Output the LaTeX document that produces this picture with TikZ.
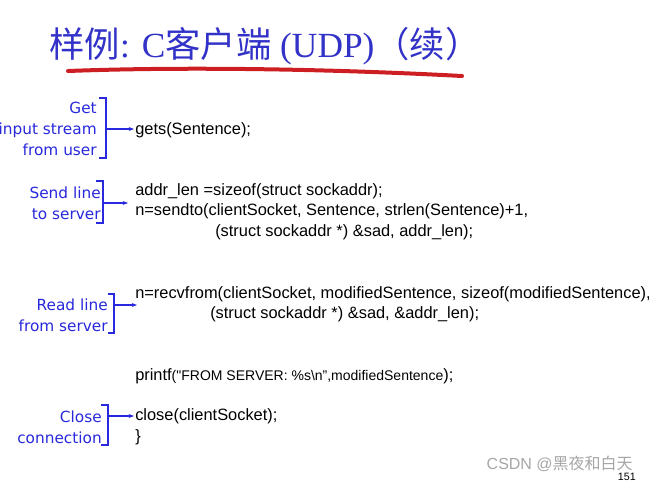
\documentclass[tikz,border=0pt]{standalone}
\usepackage{fontspec}
\usetikzlibrary{arrows.meta}
\setmainfont{Liberation Serif}
\newfontfamily\cjk{Noto Sans CJK SC}
\newfontfamily\codef{Liberation Sans}
\newfontfamily\labf{DejaVu Sans}
\definecolor{tblue}{RGB}{50,50,200}
\definecolor{lblue}{RGB}{40,40,220}
\definecolor{ured}{RGB}{205,30,35}
\begin{document}
\begin{tikzpicture}[x=0.75pt,y=-0.75pt,
  code/.style={anchor=west,inner sep=0pt,font=\codef\fontsize{12.3}{14}\selectfont},
  lab/.style={anchor=east,inner sep=0pt,align=right,text=lblue,font=\labf\fontsize{11.5}{15.5}\selectfont},
  brk/.style={draw=lblue,line width=1.3pt},
  arr/.style={draw=lblue,line width=1pt,-{Stealth[length=4pt]}}]
\useasboundingbox (0,0) rectangle (649,483);
\begin{scope}
\clip (0,0) rectangle (649,483);
\node[inner sep=0pt,text=tblue,font=\fontsize{26.5}{30}\selectfont] (title) at (265,46) {{\cjk 样例}: C{\cjk 客户端} (UDP){\cjk （续）}};
\draw[ured,line width=3pt,line cap=round] (68,71) .. controls (200,66) and (350,70) .. (462,76);
% labels
\node[lab] (l1) at (97,129) {Get\\input stream\\from user};
\node[lab] (l2) at (101,203) {Send line\\to server};
\node[lab] (l3) at (108,315) {Read line\\from server};
\node[lab] (l4) at (102,427) {Close\\connection};
\draw[brk] (99,98) -- (106,98) -- (106,158) -- (99,158);
\draw[brk] (96,181) -- (103,181) -- (103,223) -- (96,223);
\draw[brk] (108,294) -- (114,294) -- (114,333) -- (108,333);
\draw[brk] (101,405) -- (108,405) -- (108,445) -- (101,445);
% code
\node[code] (c1) at (135,130) {gets(Sentence);};
\node[code] (c2) at (135,191) {addr\_len =sizeof(struct sockaddr);};
\node[code] (c3) at (135,211) {n=sendto(clientSocket, Sentence, strlen(Sentence)+1,};
\node[code] (c4) at (215,232) {(struct sockaddr *) \&sad, addr\_len);};
\node[code] (c5) at (135,294) {n=recvfrom(clientSocket, modifiedSentence, sizeof(modifiedSentence),};
\node[code] (c6) at (210,314) {(struct sockaddr *) \&sad, \&addr\_len);};
\node[code] (c7) at (135,376) {printf{\fontsize{10.5}{12}\selectfont("FROM SERVER: \%s\textbackslash n”,modifiedSentence}{);}};
\node[code] (c8) at (135,416) {close(clientSocket);};
\node[code] (c9) at (135,437) {\}};
\coordinate (a1) at (106,129);
\coordinate (e1) at (134,129);
\coordinate (a2) at (103,203);
\coordinate (e2) at (128,203);
\coordinate (a3) at (114,305);
\coordinate (e3) at (137,305);
\coordinate (a4) at (108,416);
\coordinate (e4) at (134,416);
\draw[arr] (a1) -- (e1);
\draw[arr] (a2) -- (e2);
\draw[arr] (a3) -- (e3);
\draw[arr] (a4) -- (e4);
\node[anchor=east,inner sep=0pt,text=gray!70,font=\codef\fontsize{12}{14}\selectfont] (csdn) at (633,464) {CSDN @{\cjk 黑夜和白天}};
\node[anchor=east,inner sep=0pt,font=\codef\fontsize{8}{10}\selectfont] (pg) at (636,477) {151};
\end{scope}
\end{tikzpicture}
\end{document}
